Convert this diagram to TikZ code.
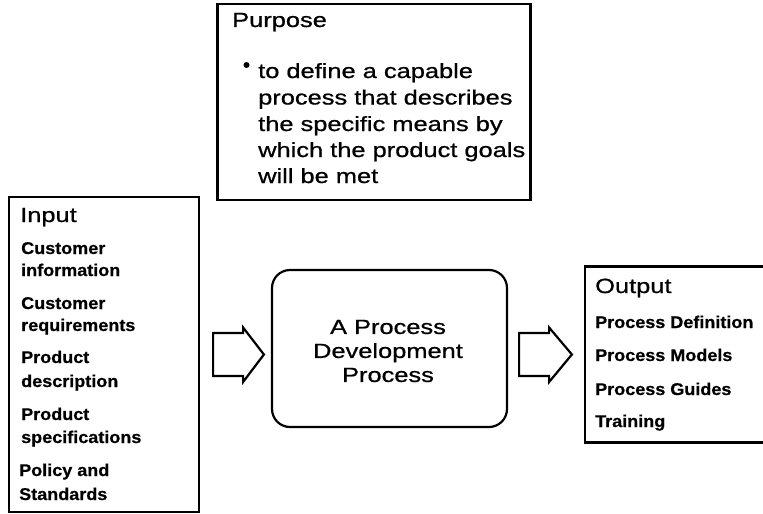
\documentclass[tikz,border=0pt]{standalone}
\usepackage{fontspec}
\usetikzlibrary{calc}
\setmainfont{Liberation Sans}[FakeStretch=1.24, FakeBold=0.8]
\newfontfamily\itemfont{Liberation Sans}[FakeStretch=1.06, FakeBold=0.6]
\begin{document}
\begin{tikzpicture}[x=1pt,y=-1pt]
\tikzset{
  frame/.style={draw, line width=2.2pt, inner sep=0pt},
  ttl/.style={anchor=base west, inner sep=0pt, font=\fontsize{20.5}{24}\selectfont},
  itm/.style={anchor=base west, inner sep=0pt, font=\itemfont\bfseries\fontsize{17}{22}\selectfont},
  blockarrow/.style={draw, line width=2.2pt, line join=miter, fill=white},
  dot/.style={circle, fill, inner sep=0pt, minimum size=6pt},
}
\useasboundingbox (0,0) rectangle (763,514);
\clip (0,0) rectangle (763,514);

% boxes
\node (purpose) [frame, minimum width=313pt, minimum height=196pt] at (374,102) {};
\node (input)   [frame, minimum width=190pt, minimum height=315pt] at (104,354.5) {};
\node (proc)    [frame, rounded corners=18pt, minimum width=235pt, minimum height=157pt] at (389.5,348.5) {};
\node (output)  [frame, minimum width=200pt, minimum height=176pt] at (685,354.5) {};

% purpose text
\node (ptitle) [ttl] at (232,27) {Purpose};
\node (pbullet) [dot] at (246.5,65) {};
\node (pl1) [ttl] at (258,78) {to define a capable};
\node (pl2) [ttl] at (258,104.5) {process that describes};
\node (pl3) [ttl] at (258,131) {the specific means by};
\node (pl4) [ttl] at (258,157) {which the product goals};
\node (pl5) [ttl] at (258,183) {will be met};

% input text
\node (ititle) [ttl] at (20,222) {Input};
\node (i1a) [itm] at (21,254) {Customer};
\node (i1b) [itm] at (21,276) {information};
\node (i2a) [itm] at (21,309) {Customer};
\node (i2b) [itm] at (21,331) {requirements};
\node (i3a) [itm] at (21,363) {Product};
\node (i3b) [itm] at (21,387) {description};
\node (i4a) [itm] at (21,420) {Product};
\node (i4b) [itm] at (21,443) {specifications};
\node (i5a) [itm] at (19,476) {Policy and};
\node (i5b) [itm] at (19,500) {Standards};

% process text
\node (ptext) [align=center, inner sep=0pt, font=\fontsize{20.5}{24}\selectfont] at (388,351) {A Process\\Development\\Process};

% output text
\node (otitle) [ttl] at (595,293) {Output};
\node (o1) [itm] at (595,328) {Process Definition};
\node (o2) [itm] at (595,361) {Process Models};
\node (o3) [itm] at (595,395) {Process Guides};
\node (o4) [itm] at (595,427) {Training};

% block arrows
\coordinate (a1s) at ($(input.east)+(13,0)$);
\coordinate (a1t) at ($(proc.west |- input.east)+(-7,0)$);
\coordinate (a2s) at ($(proc.east |- input.east)+(11,0)$);
\coordinate (a2t) at ($(output.west |- input.east)+(-12,0)$);
\draw[blockarrow] ($(a1s)+(0,-21.5)$) -- ++(30,0) -- ++(0,-5.5) -- (a1t) -- ($(a1s)+(30,27.5)$) -- ++(0,-6) -- ++(-30,0) -- cycle;
\draw[blockarrow] ($(a2s)+(0,-21.5)$) -- ++(30,0) -- ++(0,-5.5) -- (a2t) -- ($(a2s)+(30,27.5)$) -- ++(0,-6) -- ++(-30,0) -- cycle;
\end{tikzpicture}
\end{document}
